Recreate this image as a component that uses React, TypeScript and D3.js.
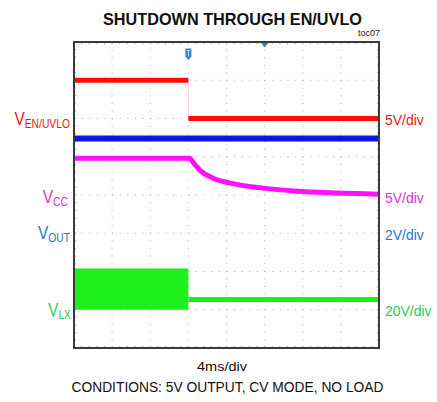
import * as d3 from 'd3';

// scope screen: 8 x 8 divisions, 4ms/div; trace levels in divisions from centre
const timeDomain = [0, 32];
const divDomain = [-4, 4];
const trigTime = 12;

// EN/UVLO (red) before / after the trigger
const enTime = [0, 12, 32];
const enLevel = [3.0, 2.0];

// VOUT (blue)
const voutTime = [0, 32];
const voutLevel = [1.48, 1.48];

// VCC (magenta) decay after shutdown
const vccTime = [0, 12.1, 12.6, 13.2, 14.6, 16.4, 19.8, 23.4, 26.9, 29.5, 32];
const vccLevel = [0.96, 0.96, 0.82, 0.65, 0.44, 0.31, 0.18, 0.1, 0.06, 0.04, 0.02];

// LX (green): switching band, then idle level
const lxBandTime = [0, 12];
const lxBandTop = -1.92;
const lxBandBottom = -3.0;
const lxIdleTime = [12, 32];
const lxIdleLevel = -2.73;

const leftLabels = [
  { main: 'V', sub: 'EN/UVLO', div: 2.0, color: '#f01414', end: 70 },
  { main: 'V', sub: 'CC', div: -0.05, color: '#e030e0', end: 68 },
  { main: 'V', sub: 'OUT', div: -1.0, color: '#1f78c8', end: 70 },
  { main: 'V', sub: 'LX', div: -3.0, color: '#2ecc52', end: 71 },
];
const rightLabels = [
  { text: '5V/div', div: 2.0, color: '#f01414' },
  { text: '5V/div', div: -0.05, color: '#e030e0' },
  { text: '2V/div', div: -1.0, color: '#1f78c8' },
  { text: '20V/div', div: -3.0, color: '#2ecc52' },
];

const font = "'Liberation Sans', Arial, sans-serif";

export default function App() {
  const left = 74, right = 379, top = 42, bottom = 348;
  const x = d3.scaleLinear().domain(timeDomain).range([left, right]);
  const y = d3.scaleLinear().domain(divDomain).range([bottom, top]);

  const line = d3.line<[number, number]>()
    .x(d => x(d[0]))
    .y(d => y(d[1]));
  const vccLine = d3.line<[number, number]>()
    .x(d => x(d[0]))
    .y(d => y(d[1]))
    .curve(d3.curveMonotoneX);

  const gridX = d3.range(1, 8).map(i => x(i * 4));
  const gridY = d3.range(-3, 4).map(i => y(i));
  const minorX = d3.range(0, 40.1).map(i => left + (i * (right - left)) / 40);
  const minorY = d3.range(0, 40.1).map(i => top + (i * (bottom - top)) / 40);
  const dotGap = (right - left) / 40;

  const tx = x(trigTime);

  return (
    <svg width={437} height={402} style={{ position: 'absolute', left: 0, top: 0 }}>
      <rect width={437} height={402} fill="#fff" />
      <text x={232.5} y={25} textAnchor="middle" fontFamily={font} fontWeight="bold" fontSize={17}
        textLength={259} lengthAdjust="spacingAndGlyphs" fill="#111">SHUTDOWN THROUGH EN/UVLO</text>
      <text x={380} y={35.5} textAnchor="end" fontFamily={font} fontSize={9}
        textLength={22} lengthAdjust="spacingAndGlyphs" fill="#222">toc07</text>

      {/* grid */}
      {gridX.map((gx, i) => (
        <line key={'gx' + i} x1={gx} x2={gx} y1={top} y2={bottom} stroke="#b4b4b4"
          strokeWidth={1} strokeDasharray={`1 ${dotGap - 1}`} />
      ))}
      {gridY.map((gy, i) => (
        <line key={'gy' + i} x1={left} x2={right} y1={gy} y2={gy} stroke="#b4b4b4"
          strokeWidth={1} strokeDasharray={`1 ${dotGap - 1}`} />
      ))}
      {minorX.map((mx, i) => (
        <g key={'mx' + i}>
          <line x1={mx} x2={mx} y1={top} y2={top + 2} stroke="#aaa" />
          <line x1={mx} x2={mx} y1={bottom} y2={bottom - 2} stroke="#aaa" />
        </g>
      ))}
      {minorY.map((my, i) => (
        <g key={'my' + i}>
          <line x1={left} x2={left + 2} y1={my} y2={my} stroke="#aaa" />
          <line x1={right} x2={right - 2} y1={my} y2={my} stroke="#aaa" />
        </g>
      ))}

      {/* LX */}
      <rect x={x(lxBandTime[0])} width={x(lxBandTime[1]) - x(lxBandTime[0])}
        y={y(lxBandTop)} height={y(lxBandBottom) - y(lxBandTop)} fill="#1ef01e" />
      <path d={line(lxIdleTime.map(t => [t, lxIdleLevel]) as [number, number][]) || ''}
        stroke="#12f512" strokeWidth={5} fill="none" />

      {/* VCC */}
      <path d={vccLine(vccTime.map((t, i) => [t, vccLevel[i]]) as [number, number][]) || ''}
        stroke="#ff10ff" strokeWidth={5} fill="none" />

      {/* VOUT */}
      <path d={line(voutTime.map((t, i) => [t, voutLevel[i]]) as [number, number][]) || ''}
        stroke="#0a14f0" strokeWidth={6} fill="none" />

      {/* EN/UVLO */}
      <line x1={x(enTime[1])} x2={x(enTime[1])} y1={y(enLevel[0])} y2={y(enLevel[1])}
        stroke="#ffd4d4" strokeWidth={1} />
      <path d={line([[enTime[0], enLevel[0]], [enTime[1], enLevel[0]]]) || ''}
        stroke="#ff0a0a" strokeWidth={5} fill="none" />
      <path d={line([[enTime[1], enLevel[1]], [enTime[2], enLevel[1]]]) || ''}
        stroke="#ff0a0a" strokeWidth={5} fill="none" />

      {/* frame */}
      <rect x={left} y={top} width={right - left} height={bottom - top} fill="none"
        stroke="#3a3a3a" strokeWidth={2} />

      {/* trigger markers */}
      <path d={`M${tx - 3},${48.5} h6 v8 l-3,3.5 l-3,-3.5 Z`} fill="#2b7fe0" />
      <path d={`M${tx - 1.6},${50.5} h3.2 M${tx},${50.5} v6`} stroke="#cfe4ff" strokeWidth={1} />
      <path d={`M${x(20) - 3.5},${43} h7 l-3.5,4.5 Z`} fill="#2b7fe0" />

      {/* channel labels */}
      {leftLabels.map((l, i) => (
        <g key={'l' + i} transform={`translate(${l.end},${y(l.div) + 6}) scale(0.86,1)`}>
          <text x={0} y={0} textAnchor="end" fontFamily={font} fill={l.color} fontSize={18}>
            {l.main}
            <tspan fontSize={12} dy={3}>{l.sub}</tspan>
          </text>
        </g>
      ))}
      {rightLabels.map((l, i) => (
        <g key={'r' + i} transform={`translate(385,${y(l.div) + 6.5}) scale(0.93,1)`}>
          <text x={0} y={0} fontFamily={font} fill={l.color} fontSize={15}>{l.text}</text>
        </g>
      ))}

      <text x={222} y={371} textAnchor="middle" fontFamily={font} fontSize={13}
        textLength={50} lengthAdjust="spacingAndGlyphs" fill="#111">4ms/div</text>
      <text x={227.5} y={392} textAnchor="middle" fontFamily={font} fontSize={15}
        textLength={312} lengthAdjust="spacingAndGlyphs" fill="#111">CONDITIONS: 5V OUTPUT, CV MODE, NO LOAD</text>
    </svg>
  );
}
